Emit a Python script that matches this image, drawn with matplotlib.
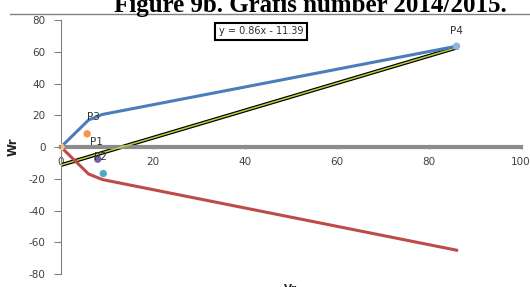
import matplotlib.pyplot as plt
from matplotlib.lines import Line2D

plt.rcParams['axes.unicode_minus'] = False

# data
blue_x = [0, 6, 9, 86]
blue_y = [0, 17, 20.5, 63.5]
red_x = [0, 6, 9, 86]
red_y = [0, -17, -20.5, -65]
slope = 0.86
intercept = -11.39
trend_x = [0, 86]

punten = {
    'origin': (0, 0, '#f5c08a'),
    'oranje': (5.7, 8.3, '#f79646'),
    'paars': (8, -7.7, '#7060a8'),
    'teal': (9.2, -16.7, '#4bacc6'),
    'P4': (86, 63.5, '#95b3d7'),
}
labels = [('P3', 7, 19), ('P1', 7.8, 3.2), ('P2', 8.5, -6.4), ('P4', 86, 73)]

xticks = [0, 20, 40, 60, 80, 100]
yticks = [-80, -60, -40, -20, 0, 20, 40, 60, 80]

fig = plt.figure(figsize=(5.3, 2.87), dpi=100)
ax = fig.add_axes([0.115, 0.0453, 0.868, 0.885])

trend_y = [slope * x + intercept for x in trend_x]
ax.plot(trend_x, trend_y, color='black', lw=2.8, zorder=2)
ax.plot(trend_x, trend_y, color='#b9cf3c', lw=1.1, zorder=3)
ax.plot(blue_x, blue_y, color='#4a7ebb', lw=2.2, zorder=4)
ax.plot(red_x, red_y, color='#be4b48', lw=2.2, zorder=4)

for naam, (px, py, kleur) in punten.items():
    ax.scatter([px], [py], s=28, color=kleur, zorder=5, edgecolors='none')

for tekst, lx, ly in labels:
    ax.text(lx, ly, tekst, fontsize=7.5, color='#303030', ha='center', va='center', zorder=6)

ax.text(0.435, 0.955, 'y = 0.86x - 11.39', transform=ax.transAxes, fontsize=7,
        color='#303030', ha='center', va='center',
        bbox=dict(boxstyle='square,pad=0.35', fc='white', ec='black', lw=1.5))

ax.set_xlim(0, 100)
ax.set_ylim(-80, 80)
ax.set_xticks(xticks)
ax.set_yticks(yticks)
ax.tick_params(labelsize=7.5, colors='#404040')
ax.tick_params(axis='x', color='#909090', length=3, direction='inout', pad=6)
ax.tick_params(axis='y', color='#808080', length=5, pad=6)

ax.spines['top'].set_visible(False)
ax.spines['right'].set_visible(False)
ax.spines['bottom'].set_position(('data', 0))
ax.spines['bottom'].set_color('#8c8c8c')
ax.spines['bottom'].set_linewidth(3)
ax.spines['left'].set_color('#808080')

ax.set_xlabel('Vr', fontsize=7.5, fontweight='bold', color='#202020')
ax.xaxis.set_label_coords(0.5, -0.04)
ax.set_ylabel('Wr', fontsize=8.5, fontweight='bold', color='#202020')
ax.yaxis.set_label_coords(-0.09, 0.5)

fig.text(0.586, 0.957, 'Figure 9b. Grafis number 2014/2015.', fontsize=18,
         fontweight='bold', family='Liberation Serif', ha='center', va='baseline')
fig.add_artist(Line2D([0.019, 1.0], [0.951, 0.951], color='#808080', lw=1))

fig.savefig('out.png', dpi=100)
